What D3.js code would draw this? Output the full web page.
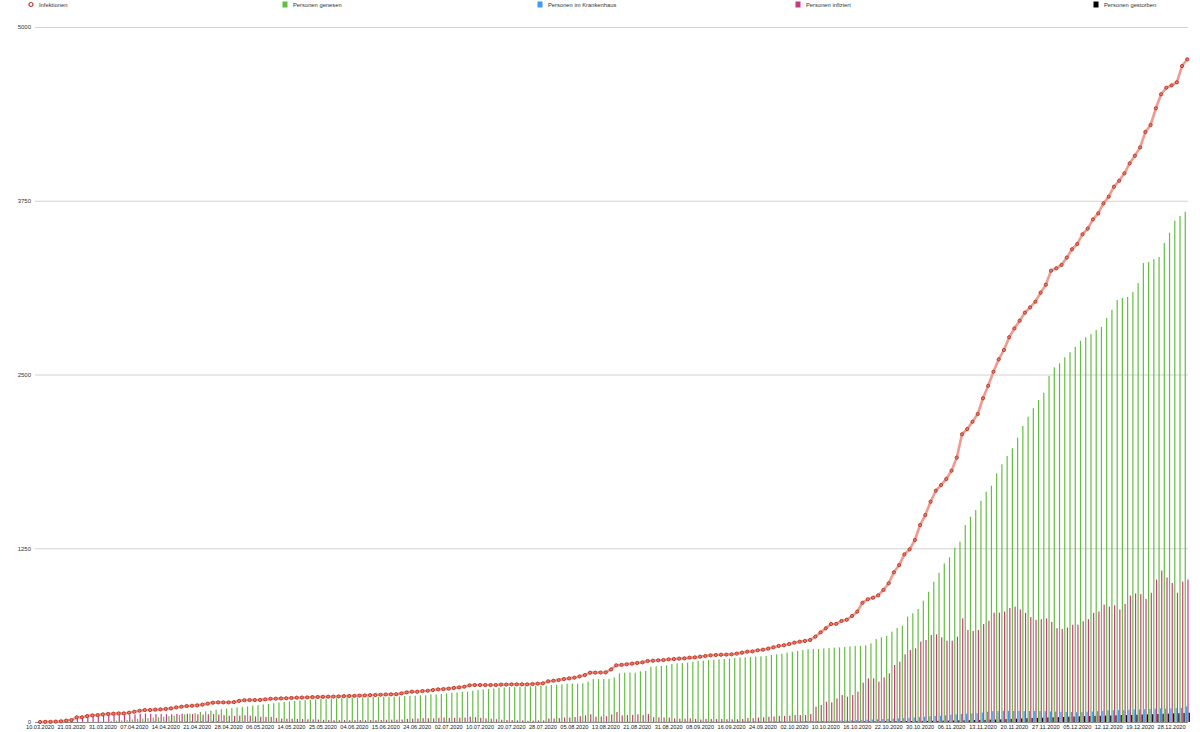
<!DOCTYPE html>
<html>
<head>
<meta charset="utf-8">
<script src="https://cdn.jsdelivr.net/npm/d3@7"></script>
<style>
  body { margin: 0; background: #fff; }
  svg { display: block; font-family: "Liberation Sans", Arial, sans-serif; }
</style>
</head>
<body>
<script>
// report dates (labels shown every 6th entry)
var dates = [
  "10.03.2020","12.03.2020","14.03.2020","16.03.2020","18.03.2020","20.03.2020",
  "21.03.2020","23.03.2020","25.03.2020","27.03.2020","28.03.2020","30.03.2020",
  "31.03.2020","01.04.2020","02.04.2020","03.04.2020","04.04.2020","06.04.2020",
  "07.04.2020","08.04.2020","09.04.2020","10.04.2020","11.04.2020","13.04.2020",
  "14.04.2020","15.04.2020","16.04.2020","17.04.2020","18.04.2020","20.04.2020",
  "21.04.2020","22.04.2020","23.04.2020","24.04.2020","25.04.2020","27.04.2020",
  "28.04.2020","29.04.2020","30.04.2020","02.05.2020","04.05.2020","05.05.2020",
  "06.05.2020","07.05.2020","08.05.2020","11.05.2020","12.05.2020","13.05.2020",
  "14.05.2020","15.05.2020","18.05.2020","19.05.2020","20.05.2020","22.05.2020",
  "25.05.2020","26.05.2020","27.05.2020","28.05.2020","29.05.2020","02.06.2020",
  "04.06.2020","05.06.2020","08.06.2020","09.06.2020","10.06.2020","12.06.2020",
  "15.06.2020","16.06.2020","17.06.2020","18.06.2020","19.06.2020","22.06.2020",
  "24.06.2020","25.06.2020","26.06.2020","29.06.2020","30.06.2020","01.07.2020",
  "02.07.2020","03.07.2020","06.07.2020","07.07.2020","08.07.2020","09.07.2020",
  "10.07.2020","13.07.2020","14.07.2020","15.07.2020","16.07.2020","17.07.2020",
  "20.07.2020","21.07.2020","22.07.2020","23.07.2020","24.07.2020","27.07.2020",
  "28.07.2020","29.07.2020","30.07.2020","31.07.2020","03.08.2020","04.08.2020",
  "05.08.2020","06.08.2020","07.08.2020","10.08.2020","11.08.2020","12.08.2020",
  "13.08.2020","14.08.2020","17.08.2020","18.08.2020","19.08.2020","20.08.2020",
  "21.08.2020","24.08.2020","25.08.2020","26.08.2020","27.08.2020","28.08.2020",
  "31.08.2020","01.09.2020","02.09.2020","03.09.2020","04.09.2020","07.09.2020",
  "08.09.2020","09.09.2020","10.09.2020","11.09.2020","14.09.2020","15.09.2020",
  "16.09.2020","17.09.2020","18.09.2020","21.09.2020","22.09.2020","23.09.2020",
  "24.09.2020","25.09.2020","28.09.2020","29.09.2020","30.09.2020","01.10.2020",
  "02.10.2020","05.10.2020","06.10.2020","07.10.2020","08.10.2020","09.10.2020",
  "10.10.2020","11.10.2020","12.10.2020","13.10.2020","14.10.2020","15.10.2020",
  "16.10.2020","17.10.2020","18.10.2020","19.10.2020","20.10.2020","21.10.2020",
  "22.10.2020","23.10.2020","24.10.2020","26.10.2020","27.10.2020","29.10.2020",
  "30.10.2020","31.10.2020","02.11.2020","03.11.2020","04.11.2020","05.11.2020",
  "06.11.2020","07.11.2020","09.11.2020","10.11.2020","11.11.2020","12.11.2020",
  "13.11.2020","14.11.2020","16.11.2020","17.11.2020","18.11.2020","19.11.2020",
  "20.11.2020","21.11.2020","23.11.2020","24.11.2020","25.11.2020","26.11.2020",
  "27.11.2020","28.11.2020","30.11.2020","01.12.2020","02.12.2020","04.12.2020",
  "05.12.2020","07.12.2020","08.12.2020","09.12.2020","10.12.2020","11.12.2020",
  "12.12.2020","14.12.2020","15.12.2020","16.12.2020","17.12.2020","18.12.2020",
  "19.12.2020","21.12.2020","22.12.2020","23.12.2020","24.12.2020","27.12.2020",
  "28.12.2020","29.12.2020","30.12.2020","31.12.2020"
];

var infektionen = [
  0,1,1,3,5,10,14,34,34,43,48,50,55,58,60,62,62,67,74,81,86,86,89,91,94,98,105,110,115,117,
  120,125,132,139,141,141,141,143,152,157,158,158,159,163,167,168,170,171,173,175,176,177,179,180,181,182,183,184,186,187,
  188,190,191,193,194,196,198,199,200,206,213,218,218,223,225,230,235,237,240,245,249,254,264,266,266,266,266,266,269,269,
  271,271,271,271,273,276,278,293,297,302,309,314,319,328,338,355,355,356,357,378,408,411,415,420,425,429,439,441,444,446,
  451,453,456,458,463,465,470,475,480,482,484,485,487,492,499,506,508,516,520,528,537,547,552,561,571,578,583,590,614,645,
  674,705,706,727,736,763,794,858,883,894,911,950,998,1077,1129,1206,1242,1309,1417,1489,1585,1664,1705,1748,1808,1902,2070,2108,2160,2216,
  2329,2419,2520,2609,2676,2768,2832,2887,2945,2983,3024,3089,3146,3247,3264,3288,3341,3401,3439,3509,3550,3616,3659,3731,3779,3851,3894,3947,4019,4074,
  4134,4245,4295,4415,4516,4563,4580,4602,4719,4768
];

var genesen = [
  0,0,0,0,0,0,0,0,0,0,0,2,3,5,8,10,12,15,19,22,25,28,32,34,38,42,46,50,55,60,
  65,72,76,82,88,92,96,100,105,108,112,118,121,126,130,135,140,144,148,152,155,157,160,162,165,167,170,171,172,174,
  175,176,178,179,180,181,182,182,183,184,187,189,189,192,192,199,199,201,206,211,213,218,218,225,230,235,237,242,247,249,
  252,254,254,257,257,259,261,261,266,269,271,276,276,276,278,290,309,309,309,309,321,350,355,355,355,365,367,398,400,403,
  408,417,422,424,427,432,441,441,446,448,451,453,456,460,465,465,468,470,472,475,482,487,492,499,505,511,518,523,525,525,
  530,532,535,537,540,544,547,547,552,566,597,609,619,650,676,693,758,782,813,873,937,1009,1074,1141,1185,1254,1297,1417,1477,1525,
  1592,1657,1700,1789,1854,1914,1969,2045,2129,2196,2257,2317,2369,2489,2552,2581,2624,2660,2700,2743,2768,2790,2820,2842,2906,2964,3036,3050,3058,3094,
  3158,3302,3309,3330,3345,3446,3520,3607,3640,3671
];

var krankenhaus = [
  0,0,0,0,0,0,0,0,0,0,0,0,0,0,0,1,1,2,2,3,3,3,4,4,5,5,5,6,6,6,
  7,7,8,8,7,7,6,6,6,5,5,5,4,4,4,3,3,3,3,2,2,2,2,2,2,1,2,2,1,2,
  2,2,1,1,2,1,1,1,2,1,1,1,1,2,1,1,1,1,1,1,1,1,1,1,1,1,1,1,1,1,
  1,1,1,1,1,1,1,1,1,1,1,1,2,2,2,2,2,2,2,2,2,2,2,2,2,2,2,2,2,2,
  2,2,2,2,2,2,2,2,2,2,2,2,2,2,2,3,2,3,3,3,3,3,3,4,4,4,5,5,5,6,
  7,8,9,10,11,12,13,14,16,18,19,21,22,24,26,28,30,32,35,38,41,43,45,48,52,55,58,60,62,64,
  68,74,78,78,80,80,79,80,78,79,80,79,78,76,75,73,72,72,70,71,74,76,78,80,84,85,86,85,88,90,
  90,92,94,96,98,96,98,100,102,112
];

var infiziert = [
  0,1,1,3,5,10,14,34,34,43,48,48,52,53,52,52,50,52,55,59,61,58,57,57,56,56,59,60,60,57,
  55,53,56,57,53,49,45,43,47,49,46,40,38,37,37,28,25,23,23,23,21,20,19,18,16,15,13,13,14,13,
  13,14,13,14,14,15,16,17,17,18,22,24,25,28,27,26,30,32,30,30,31,32,38,35,30,26,24,20,17,15,
  14,12,12,9,10,12,12,25,25,28,32,32,36,42,48,55,38,40,42,55,72,48,50,52,55,50,58,34,34,33,
  32,26,24,24,26,22,18,22,22,22,22,20,20,20,22,28,28,32,34,38,40,44,44,46,50,50,50,58,110,122,
  146,141,170,194,182,194,218,283,314,314,290,321,350,410,434,487,518,530,578,590,626,631,609,585,585,614,746,662,655,662,
  705,729,787,787,795,820,830,810,785,755,735,740,745,720,675,670,680,700,700,725,740,785,795,845,830,840,810,850,910,925,
  920,885,930,1025,1090,1040,1000,930,1010,1025
];

var gestorben = [
  0,0,0,0,0,0,0,0,0,0,0,0,0,0,0,0,0,0,0,0,0,0,0,0,0,0,0,0,0,0,
  0,0,0,0,0,0,0,0,0,0,0,1,1,1,1,1,1,1,1,1,1,1,1,1,1,1,1,1,1,1,
  1,1,1,1,1,1,1,1,1,1,1,1,1,1,1,1,1,1,1,1,1,1,1,1,1,1,1,1,1,1,
  1,1,1,1,1,1,1,1,1,1,1,1,1,1,1,1,1,1,1,1,1,1,1,1,1,1,1,1,1,1,
  1,2,2,2,2,2,2,2,2,2,2,2,2,3,3,3,3,3,3,3,3,3,3,3,3,3,4,4,4,4,
  4,4,4,4,4,5,5,5,5,5,5,6,6,6,7,7,7,8,8,8,9,9,10,10,11,12,12,13,14,14,
  15,17,18,19,21,22,24,26,27,29,30,31,33,34,35,36,38,39,41,42,43,44,45,46,47,48,50,50,51,52,
  54,55,56,57,59,60,62,63,65,67
];

var yTicks = [0, 1250, 2500, 3750, 5000];

var seriesKeys = ["genesen", "krankenhaus", "infiziert", "gestorben"];
var seriesData = { genesen: genesen, krankenhaus: krankenhaus, infiziert: infiziert, gestorben: gestorben };
var colors = { genesen: "#63bd3f", krankenhaus: "#3e9bf2", infiziert: "#c93a80", gestorben: "#111111" };

var W = 1200, H = 732;
var plot = { left: 37.4, right: 1189.9, top: 27, bottom: 722 };

var svg = d3.select("body").append("svg")
    .attr("width", W)
    .attr("height", H);

var x = d3.scaleBand()
    .domain(dates)
    .range([plot.left, plot.right])
    .padding(0);

var xs = d3.scaleBand()
    .domain(seriesKeys)
    .range([0, x.bandwidth()])
    .paddingInner(0.12);

var y = d3.scaleLinear()
    .domain([0, 5000])
    .range([plot.bottom, plot.top]);

// grid lines + y labels
var yAxis = d3.axisLeft(y)
    .tickValues(yTicks)
    .tickFormat(d3.format("d"))
    .tickSize(-(1188 - 35))
    .tickPadding(4);

var gy = svg.append("g")
    .attr("transform", "translate(35,0)")
    .call(yAxis);
gy.select(".domain").remove();
gy.selectAll(".tick line")
    .attr("stroke", function(d){ return d === 0 ? "#8a8a8a" : "#d2d2d2"; })
    .attr("stroke-width", 1);
gy.selectAll(".tick text")
    .attr("font-size", "6px")
    .attr("fill", "#333");

// bars
seriesKeys.forEach(function(key){
  svg.append("g")
    .selectAll("rect")
    .data(seriesData[key])
    .enter().append("rect")
      .attr("x", function(d,i){ return x(dates[i]) + xs(key); })
      .attr("y", function(d){ return y(d); })
      .attr("width", xs.bandwidth())
      .attr("height", function(d){ return y(0) - y(d); })
      .attr("fill", colors[key]);
});

// infections line
var line = d3.line()
    .x(function(d,i){ return x(dates[i]) + x.bandwidth() / 2; })
    .y(function(d){ return y(d); });

svg.append("path")
    .attr("d", line(infektionen))
    .attr("fill", "none")
    .attr("stroke", "#f09a90")
    .attr("stroke-width", 2.6)
    .attr("stroke-linejoin", "round");

svg.append("g")
  .selectAll("circle")
  .data(infektionen)
  .enter().append("circle")
    .attr("cx", function(d,i){ return x(dates[i]) + x.bandwidth() / 2; })
    .attr("cy", function(d){ return y(d); })
    .attr("r", 1.6)
    .attr("fill", "#e77c70")
    .attr("stroke", "#b8321f")
    .attr("stroke-width", 0.9);

// x labels
var xAxis = d3.axisBottom(x)
    .tickValues(dates.filter(function(d,i){ return i % 6 === 0; }))
    .tickSize(0)
    .tickPadding(3.5);

var gx = svg.append("g")
    .attr("transform", "translate(0," + plot.bottom + ")")
    .call(xAxis);
gx.select(".domain").remove();
gx.selectAll(".tick text")
    .attr("font-size", "5.6px")
    .attr("fill", "#222");

// legend
var legendItems = [
  { label: "Infektionen", x: 31, type: "circle", color: "#c0392b" },
  { label: "Personen genesen", x: 285, type: "rect", color: colors.genesen },
  { label: "Personen im Krankenhaus", x: 540, type: "rect", color: colors.krankenhaus },
  { label: "Personen infiziert", x: 798, type: "rect", color: colors.infiziert },
  { label: "Personen gestorben", x: 1096, type: "rect", color: "#000" }
];

var lg = svg.append("g").selectAll("g")
    .data(legendItems)
    .enter().append("g")
    .attr("transform", function(d){ return "translate(" + d.x + ",4.5)"; });

lg.filter(function(d){ return d.type === "circle"; })
  .append("circle")
    .attr("r", 2)
    .attr("fill", "#fff")
    .attr("stroke", function(d){ return d.color; })
    .attr("stroke-width", 1.2);

lg.filter(function(d){ return d.type === "rect"; })
  .append("rect")
    .attr("x", -2.5)
    .attr("y", -3)
    .attr("width", 5)
    .attr("height", 6)
    .attr("fill", function(d){ return d.color; });

lg.append("text")
    .attr("x", 8)
    .attr("dy", "0.35em")
    .attr("font-size", "5.8px")
    .attr("fill", "#333")
    .text(function(d){ return d.label; });
</script>
</body>
</html>
